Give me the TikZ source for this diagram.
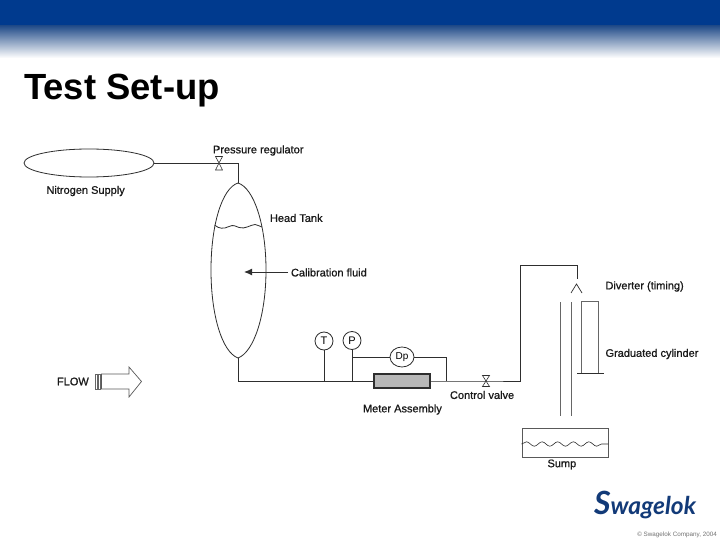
\documentclass[tikz,border=0pt]{standalone}
\usepackage{fontspec}
\setmainfont{Liberation Sans}
\newfontfamily\logofont{Lato}
\newfontfamily\lblfont[FakeBold=0.8]{Liberation Sans}
\usetikzlibrary{arrows.meta,decorations.pathmorphing,shapes.geometric}
\definecolor{hdr}{HTML}{003A8E}
\definecolor{pipe}{HTML}{2E2E2E}
\definecolor{logoblue}{HTML}{123A78}
\tikzset{
  x=1pt,y=-1pt,
  pipeline/.style={draw=pipe,line width=1pt},
  thin pipe/.style={draw=pipe,line width=0.8pt},
  lbl/.style={inner sep=0pt,outer sep=0pt,font=\lblfont\fontsize{11}{12}\selectfont,text=black!90,anchor=west},
  inst/.style={circle,draw=pipe,line width=0.8pt,minimum size=18pt,inner sep=0pt,font=\fontsize{11}{12}\selectfont},
  valvepart/.style={draw=pipe,line width=0.6pt,fill=white},
}
\begin{document}
\begin{tikzpicture}
\useasboundingbox (0,0) rectangle (720,540);
\fill[white] (0,0) rectangle (720,540);
% header
\fill[hdr] (0,0) rectangle (720,26.5);
\shade[top color=hdr!72!gray,bottom color=white] (0,26) rectangle (720,58);
\node[inner sep=0pt,anchor=base west,font=\fontsize{36.4}{40}\selectfont\bfseries] (title) at (24,100) {Test Set-up};

% equipment
\node[ellipse,draw=pipe,line width=0.8pt,minimum width=130pt,minimum height=28pt,inner sep=0pt] (supply) at (89,163) {};
\coordinate (tanktop) at (238,183);
\coordinate (tankbot) at (238,358);
\draw[thin pipe] (tanktop) .. controls (222,188) and (211,225) .. (211,270)
  .. controls (211,315) and (222,352) .. (tankbot)
  .. controls (254,352) and (266,315) .. (266,270)
  .. controls (266,225) and (254,188) .. (tanktop);
\draw[thin pipe] (214.5,225) .. controls (219,229) and (224,229) .. (229,226.5)
  .. controls (233,224.5) and (236,226) .. (239,227.5)
  .. controls (245,229.5) and (250,225) .. (255,224.5)
  .. controls (258,224.5) and (260,227) .. (262,227);
\node[draw=pipe,fill=black!28,line width=1.1pt,minimum width=56pt,minimum height=14pt,inner sep=0pt] (meter) at (402,381) {};
\node[inst] (T) at (324,341) {T};
\node[inst] (P) at (352,340.5) {P};
\node[ellipse,draw=pipe,line width=0.8pt,minimum width=24pt,minimum height=20pt,inner sep=0pt,font=\fontsize{10}{12}\selectfont] (dp) at (402,357) {Dp};

% coordinates of the pipe run
\coordinate (c1) at (238,163);
\coordinate (rv) at (219,163);
\coordinate (j0) at (238,381);
\coordinate (jT) at (324,381);
\coordinate (jP) at (352,381);
\coordinate (jPb) at (352,357);
\coordinate (jd) at (446,357);
\coordinate (jde) at (446,381);
\coordinate (cv) at (486,381);
\coordinate (u1) at (520.5,381);
\coordinate (u2) at (520.5,265.5);
\coordinate (u3) at (577,265.5);
\coordinate (u4) at (577,279);

\draw[thin pipe] (supply.east) -- (c1) -- (tanktop);
\draw[thin pipe] (tankbot) -- (j0) -- (meter.west);
\draw[thin pipe] (T.south) -- (jT);
\draw[thin pipe] (P.south) -- (jP);
\draw[thin pipe] (jPb) -- (dp.west);
\draw[thin pipe] (dp.east) -- (jd) -- (jde);
\draw[thin pipe] (meter.east) -- (cv) -- (u1);
\draw[pipeline] (u1) -- (u2) -- (u3) -- (u4);

% valves
\draw[valvepart] (rv) -- ++(-3.5,-6.5) -- ++(7,0) -- cycle;
\draw[valvepart] (rv) -- ++(-3.5,7) -- ++(7,0) -- cycle;
\draw[valvepart] (cv) -- ++(-3.5,-5.5) -- ++(7,0) -- cycle;
\draw[valvepart] (cv) -- ++(-3.5,5.5) -- ++(7,0) -- cycle;

% diverter, tubes, cylinder, sump
\coordinate (da) at (576.5,284);
\draw[draw=pipe,line width=0.7pt] (571,293) -- (da) -- (582,293);
\coordinate (t1a) at (560,302); \coordinate (t1b) at (560,415.5);
\coordinate (t2a) at (571,302); \coordinate (t2b) at (571,415.5);
\draw[draw=black!60,line width=1pt] (t1a) -- (t1b);
\draw[draw=black!60,line width=1pt] (t2a) -- (t2b);
\coordinate (cy1) at (581,373); \coordinate (cy2) at (581,301.5);
\coordinate (cy3) at (598,301.5); \coordinate (cy4) at (598,373);
\draw[draw=black!60,line width=0.9pt] (cy1) -- (cy2) -- (cy3) -- (cy4);
\coordinate (cb1) at (577,373.5); \coordinate (cb2) at (603.5,373.5);
\draw[draw=pipe,line width=0.7pt] (cb1) -- (cb2);
\node[draw=black!65,line width=0.8pt,minimum width=86pt,minimum height=29pt,inner sep=0pt] (sump) at (565,442.5) {};
\draw[draw=pipe,line width=0.6pt,decorate,decoration={snake,segment length=15.6pt,amplitude=2.2pt}] (sump.west |- 0,444) -- (sump.east |- 0,444);

% calibration arrow
\node[lbl] (calib) at (291,272.5) {Calibration fluid};
\coordinate (arr) at (244,272);
\draw[pipeline,-{Latex[length=8pt,width=7pt]}] (288,272) -- (arr);

% flow arrow
\node[lbl,font=\lblfont\fontsize{11}{12}\selectfont] (flow) at (57,381.5) {FLOW};
\node[draw=black!60,fill=white,line width=0.6pt,minimum width=2pt,minimum height=15pt,inner sep=0pt] (s1) at (96.5,381.5) {};
\node[draw=black!60,fill=white,line width=0.6pt,minimum width=1.5pt,minimum height=15pt,inner sep=0pt] (s2) at (99.5,381.5) {};
\draw[draw=black!65,line width=0.7pt,fill=white] (101.5,374) -- (129,374) -- (129,367) -- (141.5,381.5) -- (129,397) -- (129,389) -- (101.5,389) -- cycle;

% labels
\node[lbl] (l1) at (213,150.5) {Pressure regulator};
\node[lbl] (l2) at (46.5,191) {Nitrogen Supply};
\node[lbl] (l3) at (270,218) {Head Tank};
\node[lbl] (l4) at (450,395) {Control valve};
\node[lbl] (l5) at (363,409.5) {Meter Assembly};
\node[lbl] (l6) at (605.5,286.5) {Diverter (timing)};
\node[lbl] (l7) at (605.5,354) {Graduated cylinder};
\node[lbl] (l8) at (547.5,464.5) {Sump};

% logo and copyright
\node[inner sep=0pt,anchor=center,text=logoblue,font=\logofont\fontsize{24.5}{30}\selectfont\bfseries\itshape] (logo) at (645,505) {{\fontsize{32}{30}\selectfont S}wagelok};
\node[inner sep=0pt,anchor=east,text=black!55,font=\fontsize{6.3}{7}\selectfont] (copy) at (717,535) {© Swagelok Company, 2004};
\end{tikzpicture}
\end{document}
